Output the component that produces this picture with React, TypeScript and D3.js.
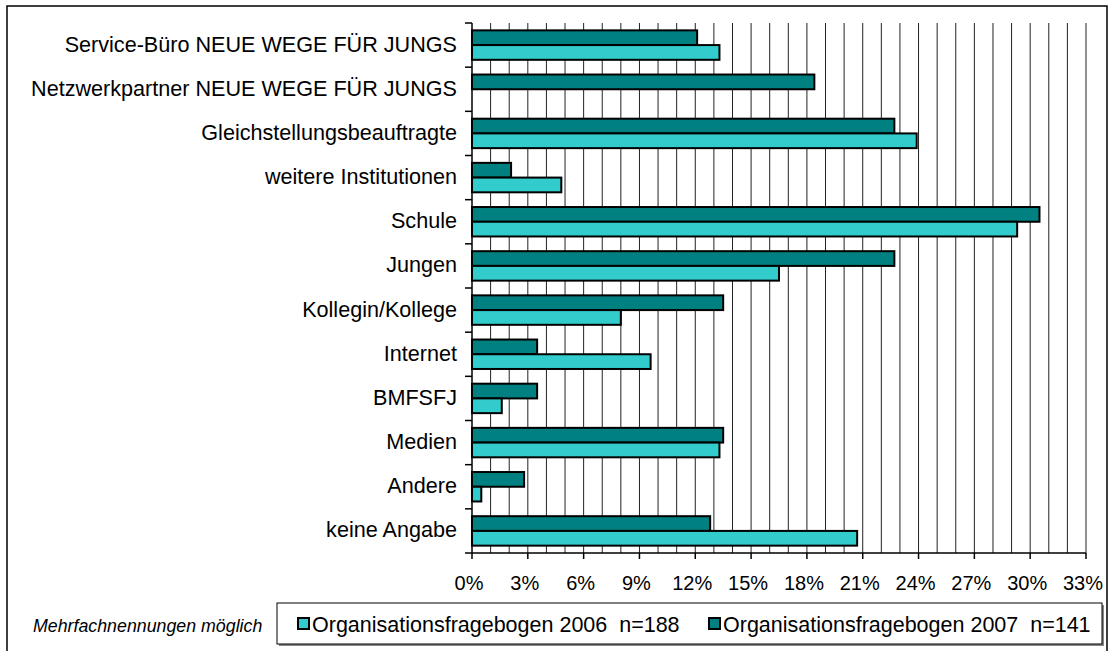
import React from "react";
import * as d3 from "d3";

const categories = [
  "Service-Büro NEUE WEGE FÜR JUNGS",
  "Netzwerkpartner NEUE WEGE FÜR JUNGS",
  "Gleichstellungsbeauftragte",
  "weitere Institutionen",
  "Schule",
  "Jungen",
  "Kollegin/Kollege",
  "Internet",
  "BMFSFJ",
  "Medien",
  "Andere",
  "keine Angabe",
];

// values in percent
const values2006: (number | null)[] = [13.3, null, 23.9, 4.8, 29.3, 16.5, 8.0, 9.6, 1.6, 13.3, 0.5, 20.7];
const values2007: (number | null)[] = [12.1, 18.4, 22.7, 2.1, 30.5, 22.7, 13.5, 3.5, 3.5, 13.5, 2.8, 12.8];

const seriesNames = ["Organisationsfragebogen 2006  n=188", "Organisationsfragebogen 2007  n=141"];
const xTicks = [0, 3, 6, 9, 12, 15, 18, 21, 24, 27, 30, 33];
const gridValues = d3.range(1, 34);
const note = "Mehrfachnennungen möglich";

const C2006 = "#33CCCC";
const C2007 = "#008080";
const FONT = "'Liberation Sans', Arial, sans-serif";

export default function App() {
  const W = 1109, H = 651;
  const left = 472, right = 1086, top = 23, bottom = 553;
  const x = d3.scaleLinear().domain([0, 33]).range([left, right]);
  const y = d3.scaleBand<string>().domain(categories).range([top, bottom]).paddingInner(1 / 3).paddingOuter(1 / 6);
  const sub = d3.scaleBand<string>().domain(["2007", "2006"]).range([0, y.bandwidth()]);
  const boundaries = d3.range(0, categories.length + 1).map((i) => top + i * y.step());

  return (
    <svg width={W} height={H} style={{ position: "absolute", left: 0, top: 0 }} fontFamily={FONT}>
      <rect x={0} y={0} width={W} height={H} fill="#fff" />
      <rect x={7} y={6} width={1100} height={660} fill="none" stroke="#000" strokeWidth={1.5} />
      {/* gridlines */}
      {gridValues.map((v) => (
        <line key={v} x1={x(v)} x2={x(v)} y1={top} y2={bottom} stroke="#222" strokeWidth={1} />
      ))}
      {/* bars */}
      {categories.map((c, i) => {
        const v7 = values2007[i];
        const v6 = values2006[i];
        const y0 = y(c)!;
        return (
          <g key={c}>
            {v7 != null && (
              <rect x={x(0)} y={y0 + sub("2007")!} width={x(v7) - x(0)} height={sub.bandwidth()} fill={C2007} stroke="#000" strokeWidth={2} />
            )}
            {v6 != null && (
              <rect x={x(0)} y={y0 + sub("2006")!} width={x(v6) - x(0)} height={sub.bandwidth()} fill={C2006} stroke="#000" strokeWidth={2} />
            )}
            <text x={457} y={y0 + y.bandwidth() / 2 - 1} dy="0.35em" textAnchor="end" fontSize={21.6} fill="#000">
              {c}
            </text>
          </g>
        );
      })}
      {/* y axis */}
      <line x1={left} x2={left} y1={top} y2={bottom} stroke="#000" strokeWidth={1.5} />
      {boundaries.map((b, i) => (
        <line key={i} x1={left - 7} x2={left} y1={b} y2={b} stroke="#000" strokeWidth={1.5} />
      ))}
      {/* x axis */}
      <line x1={left} x2={right} y1={bottom} y2={bottom} stroke="#000" strokeWidth={1.5} />
      {xTicks.map((t) => (
        <g key={t}>
          <line x1={x(t)} x2={x(t)} y1={bottom} y2={bottom + 6} stroke="#000" strokeWidth={1.5} />
          <text x={x(t) - 3} y={590} textAnchor="middle" fontSize={20} fill="#000">
            {t}%
          </text>
        </g>
      ))}
      {/* note */}
      <text x={33} y={632} fontSize={17.8} fontStyle="italic" fill="#000">
        {note}
      </text>
      {/* legend */}
      <rect x={279} y={605} width={825} height={41} fill="#888" />
      <rect x={277} y={603} width={825} height={41} fill="#fff" stroke="#000" strokeWidth={1} />
      <rect x={298} y={618} width={11} height={11} fill={C2006} stroke="#000" strokeWidth={2} />
      <text x={312} y={632} fontSize={21.5} fill="#000" style={{ whiteSpace: "pre" }}>{seriesNames[0]}</text>
      <rect x={709} y={618} width={11} height={11} fill={C2007} stroke="#000" strokeWidth={2} />
      <text x={723} y={632} fontSize={21.5} fill="#000" style={{ whiteSpace: "pre" }}>{seriesNames[1]}</text>
    </svg>
  );
}
